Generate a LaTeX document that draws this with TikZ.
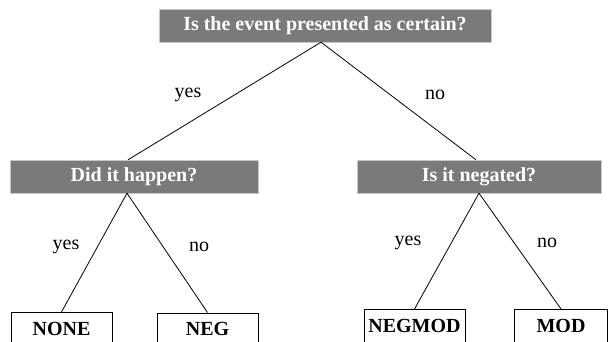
\documentclass[tikz,border=0pt]{standalone}
\usepackage{fontspec}
\setmainfont{Liberation Serif}
\definecolor{qgray}{HTML}{7A7A7A}
\definecolor{qedge}{HTML}{C8C8C8}

\begin{document}
\begin{tikzpicture}[x=1pt,y=-1pt,
    question/.style={draw=qedge,fill=qgray,text=white,font=\fontsize{20}{24}\selectfont\bfseries,minimum height=33pt,inner sep=0pt},
    answer/.style={draw=black,line width=0.9pt,fill=white,anchor=north,font=\fontsize{20}{24}\selectfont\bfseries,inner xsep=0pt,inner ysep=10pt,text height=13pt,text depth=12pt},
    branch/.style={font=\fontsize{20}{24}\selectfont}]
            \useasboundingbox (0,0) rectangle (609,341);
            \node[question,minimum width=332pt] (certain) at (325,25.5) {Is the event presented as certain?};
            \node[question,minimum width=248pt] (happen) at (134,176.5) {Did it happen?};
            \node[question,minimum width=244pt] (negated) at (479,176.5) {Is it negated?};
            \node[answer,minimum width=101pt] (none) at (61.5,312) {NONE};
            \node[answer,minimum width=101pt] (neg) at (207.5,312.5) {NEG};
            \node[answer,minimum width=101pt] (negmod) at (414.5,309) {NEGMOD};
            \node[answer,minimum width=93pt] (mod) at (561,309) {MOD};
            \draw[line width=0.8pt] ([xshift=-4pt]certain.south) -- ([xshift=-6pt]happen.north);
            \draw[line width=0.8pt] ([xshift=-4pt]certain.south) -- ([xshift=-3pt]negated.north);
            \draw[line width=0.8pt] ([xshift=-7pt]happen.south) -- (none.north);
            \draw[line width=0.8pt] ([xshift=-7pt]happen.south) -- (neg.north);
            \draw[line width=0.8pt] (negated.south) -- (negmod.north);
            \draw[line width=0.8pt] (negated.south) -- (mod.north);
            \node[branch] (yes1) at (188,95) {yes};
            \node[branch] (no1) at (435,95) {no};
            \node[branch] (yes2) at (66,247) {yes};
            \node[branch] (no2) at (199,247) {no};
            \node[branch] (yes3) at (408,243) {yes};
            \node[branch] (no3) at (547,243) {no};
        \end{tikzpicture}
\end{document}
